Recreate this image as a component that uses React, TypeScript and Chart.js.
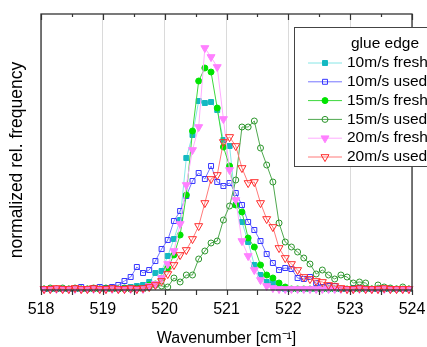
import React, { useEffect, useRef } from "react";
import { Chart, registerables } from "chart.js";

Chart.register(...registerables);

// Wavenumber bin centres [cm^-1]
const WAVENUMBER = [
  518.05, 518.15, 518.25, 518.35, 518.45, 518.55, 518.65, 518.75, 518.85, 518.95,
  519.05, 519.15, 519.25, 519.35, 519.45, 519.55, 519.65, 519.75, 519.85, 519.95,
  520.05, 520.15, 520.25, 520.35, 520.45, 520.55, 520.65, 520.75, 520.85, 520.95,
  521.05, 521.15, 521.25, 521.35, 521.45, 521.55, 521.65, 521.75, 521.85, 521.95,
  522.05, 522.15, 522.25, 522.35, 522.45, 522.55, 522.65, 522.75, 522.85, 522.95,
  523.05, 523.15, 523.25, 523.35, 523.45, 523.55, 523.65, 523.75, 523.85, 523.95,
];

// relative frequencies (arbitrary normalised units)
const FRESH_10 = [
  0, 0, 0, 0, 0, 0, 0, 0, 0, 0,
  0, 0, 0, 1, 2, 3, 4, 7, 16, 18,
  33, 50, 69, 131, 154, 188, 186, 187, 179, 149,
  143, 84, 67, 47, 24, 14, 7, 6, 1, 0,
  0, 0, 0, 0, 0, 0, 0, 0, 0, 0,
  0, 0, 0, 0, 0, 0, 0, 0, 0, 0,
];
const USED_10 = [
  0, 0, 0, 0, 0, 0, 2, 0, 1, 2,
  1, 2, 4, 8, 12, 22, 16, 19, 28, 40,
  49, 68, 78, 93, 108, 116, 110, 123, 107, 103,
  106, 96, 84, 67, 59, 48, 35, 26, 19, 21,
  20, 11, 10, 12, 6, 2, 3, 3, 0, 0,
  1, 1, 0, 0, 0, 0, 0, 0, 0, 0,
];
const FRESH_15 = [
  0, 0, 0, 0, 0, 0, 0, 0, 0, 0,
  0, 0, 0, 0, 0, 0, 0, 4, 5, 11,
  21, 34, 54, 94, 158, 208, 221, 217, 181, 142,
  123, 84, 77, 51, 42, 24, 14, 11, 6, 2,
  0, 0, 0, 0, 0, 0, 0, 0, 0, 0,
  0, 0, 0, 0, 0, 0, 0, 0, 0, 0,
];
const USED_15 = [
  0, 1, 0, 1, 0, 1, 0, 0, 1, 0,
  1, 0, 0, 1, 0, 1, 0, 2, 4, 3,
  2, 11, 7, 14, 14, 30, 38, 46, 48, 69,
  83, 109, 162, 162, 168, 141, 124, 107, 66, 47,
  42, 37, 31, 25, 15, 19, 14, 10, 14, 12,
  6, 7, 6, 0, 4, 2, 1, 0, 2, 0,
];
const FRESH_20 = [
  0, 0, 0, 0, 0, 0, 0, 0, 0, 0,
  0, 0, 0, 0, 0, 0, 0, 3, 5, 11,
  25, 38, 65, 104, 139, 162, 241, 232, 222, 170,
  119, 89, 48, 33, 19, 9, 3, 1, 0, 0,
  0, 0, 0, 0, 0, 0, 0, 0, 0, 0,
  0, 0, 0, 0, 0, 0, 0, 0, 0, 0,
];
const USED_20 = [
  0, 0, 1, 0, 0, 1, 0, 0, 1, 0,
  0, 1, 0, 0, 1, 0, 1, 2, 4, 8,
  15, 24, 34, 39, 50, 63, 86, 110, 114, 147,
  152, 143, 121, 106, 107, 86, 70, 62, 41, 31,
  25, 19, 12, 10, 8, 7, 4, 3, 1, 0,
  0, 1, 0, 0, 0, 1, 0, 0, 0, 0,
];

const SERIES_LABELS = ["10m/s fresh", "10m/s used", "15m/s fresh", "15m/s used", "20m/s fresh", "20m/s used"];
const LEGEND_TITLE = "glue edge";
const X_TITLE = "Wavenumber [cm\u207B\u00B9]";
const Y_TITLE = "normalized rel. frequency";
const X_TICKS = [518, 519, 520, 521, 522, 523, 524];

const FONT = '"Liberation Sans", Arial, Helvetica, sans-serif';

type Style = { marker: string; fill: string; stroke: string; line: string; radius: number };
const STYLES: Style[] = [
  { marker: "square", fill: "#14b9c2", stroke: "#14b9c2", line: "#86e6e6", radius: 3.5 },
  { marker: "square", fill: "rgba(255,255,255,0)", stroke: "#3535ff", line: "#7676ff", radius: 3.5 },
  { marker: "circle", fill: "#00e400", stroke: "#00e400", line: "#3cd83c", radius: 3 },
  { marker: "circle", fill: "rgba(255,255,255,0)", stroke: "#2c952c", line: "#4fa84f", radius: 3 },
  { marker: "tri", fill: "#ff80ff", stroke: "#ff80ff", line: "#ffacff", radius: 4.6 },
  { marker: "tri", fill: "rgba(255,255,255,0)", stroke: "#ff2a2a", line: "#ff7a7a", radius: 4.6 },
];

function drawMarker(ctx: CanvasRenderingContext2D, st: Style, x: number, y: number) {
  ctx.beginPath();
  const r = st.radius;
  if (st.marker === "square") {
    const s = r * Math.SQRT1_2;
    ctx.rect(x - s, y - s, 2 * s, 2 * s);
  } else if (st.marker === "circle") {
    ctx.arc(x, y, r, 0, Math.PI * 2);
  } else {
    ctx.moveTo(x, y + r);
    ctx.lineTo(x - r * 0.866, y - r / 2);
    ctx.lineTo(x + r * 0.866, y - r / 2);
    ctx.closePath();
  }
  ctx.fillStyle = st.fill;
  ctx.fill();
  ctx.lineWidth = 1;
  ctx.strokeStyle = st.stroke;
  ctx.stroke();
}

const framePlugin = {
  id: "frameAndLegend",
  afterDatasetsDraw(chart: any) {
    const { ctx, chartArea: a, scales } = chart;
    const xs = scales.x;
    ctx.save();
    // frame
    ctx.strokeStyle = "#333";
    ctx.lineWidth = 1.3;
    ctx.strokeRect(a.left, a.top, a.right - a.left, a.bottom - a.top);
    // ticks every 0.5
    ctx.lineWidth = 1.2;
    for (let v = 518; v <= 524.001; v += 0.5) {
      const px = Math.round(xs.getPixelForValue(v)) + 0.5;
      const major = Math.abs(v - Math.round(v)) < 0.01;
      ctx.beginPath();
      ctx.moveTo(px, a.bottom);
      ctx.lineTo(px, a.bottom + 5);
      ctx.moveTo(px, a.top);
      ctx.lineTo(px, a.top + (major ? 6 : 3));
      ctx.stroke();
    }
    // axis titles
    ctx.fillStyle = "#000";
    ctx.textAlign = "center";
    ctx.textBaseline = "middle";
    ctx.font = `16px ${FONT}`;
    ctx.fillText(X_TITLE, (a.left + a.right) / 2, 339);
    ctx.save();
    ctx.translate(17, 160);
    ctx.rotate(-Math.PI / 2);
    ctx.font = `17.5px ${FONT}`;
    ctx.fillText(Y_TITLE, 0, 0);
    ctx.restore();

    // legend
    const lx = 294, ly = 27;
    ctx.fillStyle = "#fff";
    ctx.fillRect(lx, ly, 150, 140);
    ctx.strokeStyle = "#444";
    ctx.lineWidth = 1;
    ctx.strokeRect(lx + 0.5, ly + 0.5, 150, 139);
    ctx.fillStyle = "#000";
    ctx.font = `15.5px ${FONT}`;
    ctx.textAlign = "center";
    ctx.fillText(LEGEND_TITLE, 385, 44);
    ctx.textAlign = "left";
    chart.data.datasets.forEach((ds: any, i: number) => {
      const st = STYLES[i];
      const y = 63 + i * 18.8;
      ctx.strokeStyle = st.line;
      ctx.lineWidth = 1;
      ctx.beginPath();
      ctx.moveTo(308, y);
      ctx.lineTo(342, y);
      ctx.stroke();
      drawMarker(ctx, st, 325, y);
      ctx.fillStyle = "#000";
      ctx.fillText(ds.label, 347, y);
    });
    ctx.restore();
  },
};

export default function App() {
  const ref = useRef<HTMLCanvasElement | null>(null);
  useEffect(() => {
    if (!ref.current) return;
    const all = [FRESH_10, USED_10, FRESH_15, USED_15, FRESH_20, USED_20];
    const datasets = all.map((vals, i) => {
      const st = STYLES[i];
      return {
        label: SERIES_LABELS[i],
        data: WAVENUMBER.map((x, k) => ({ x, y: vals[k] })),
        borderColor: st.line,
        borderWidth: 1,
        backgroundColor: st.fill,
        pointBackgroundColor: st.fill,
        pointBorderColor: st.stroke,
        pointBorderWidth: 1,
        pointStyle: st.marker === "square" ? "rect" : st.marker === "circle" ? "circle" : "triangle",
        pointRotation: st.marker === "tri" ? 180 : 0,
        pointRadius: st.radius,
        tension: 0,
        fill: false,
        clip: false as any,
        order: 5 - i,
      };
    });
    const chart = new Chart(ref.current, {
      type: "line",
      data: { datasets },
      options: {
        animation: false,
        responsive: true,
        maintainAspectRatio: false,
        layout: { padding: { left: 0, right: 15, top: 14, bottom: 0 } },
        plugins: { legend: { display: false }, tooltip: { enabled: false } },
        scales: {
          x: {
            type: "linear",
            min: 518,
            max: 524,
            afterBuildTicks: (s: any) => {
              s.ticks = X_TICKS.map((v) => ({ value: v }));
            },
            afterFit: (s: any) => {
              s.height = 57;
              s.paddingLeft = 0;
              s.paddingRight = 0;
            },
            ticks: {
              font: { size: 16, family: FONT },
              color: "#000",
              padding: 10,
              maxRotation: 0,
              autoSkip: false,
            },
            grid: { color: "#dadada", lineWidth: 1, drawTicks: false },
            border: { display: false },
          },
          y: {
            type: "linear",
            min: -1,
            max: 275,
            afterFit: (s: any) => {
              s.width = 41;
            },
            ticks: { display: false },
            grid: { display: false, drawTicks: false },
            border: { display: false },
          },
        },
      },
      plugins: [framePlugin],
    } as any);
    return () => chart.destroy();
  }, []);
  return (
    <div style={{ position: "fixed", left: 0, top: 0, width: 427, height: 347, background: "#fff" }}>
      <canvas ref={ref} />
    </div>
  );
}
